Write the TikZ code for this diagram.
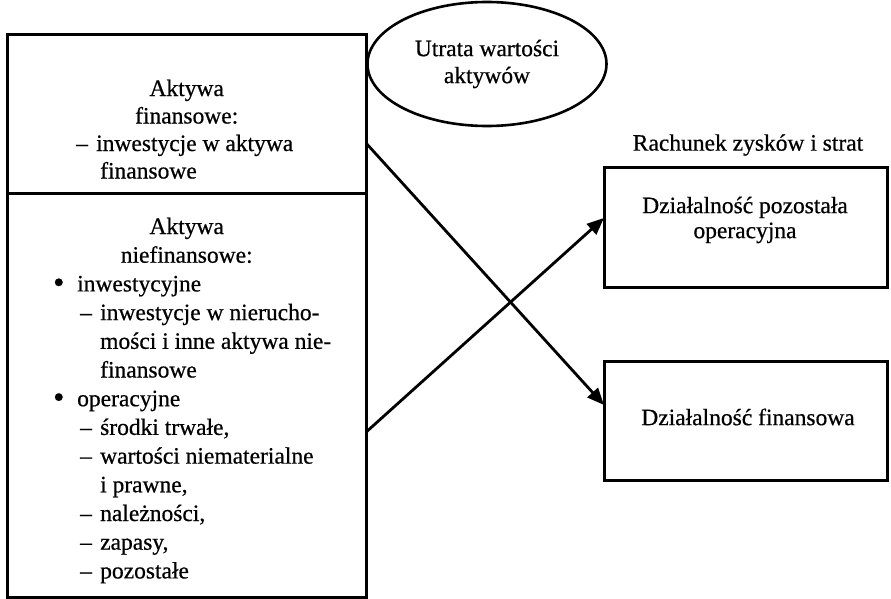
\documentclass[tikz,border=0pt]{standalone}
\usepackage{fontspec}
\setmainfont{Liberation Serif}[FakeBold=0.6]
\usetikzlibrary{shapes.geometric,arrows.meta,calc}
\newcommand\dItem[2]{\hspace*{#1}\makebox[20pt][l]{--}#2}
\newcommand\bItem[1]{\hspace*{46pt}\makebox[24pt][l]{\raisebox{-1.5pt}{\fontsize{32pt}{28pt}\selectfont •}}#1}
\newcommand\cLine[1]{\hspace*{93pt}#1}
\begin{document}
\begin{tikzpicture}[x=1pt,y=-1pt,
  box/.style={draw, line width=3pt, rectangle, inner sep=0pt, outer sep=0pt},
  txt/.style={font=\fontsize{23.5pt}{27.5pt}\selectfont, inner sep=0pt},
  arr/.style={line width=2.8pt, -{Triangle[length=17pt,width=14pt]}}]
\useasboundingbox (0,0) rectangle (891,599);

% left box
\node[box, minimum width=359pt, minimum height=158pt, anchor=north west] (fin) at (7,35) {};
\node[box, minimum width=359pt, minimum height=404pt, anchor=north west] (nfin) at (7,193) {};

\node[txt, text width=359pt, align=flush left, anchor=north west] (finT) at (7,79.5) {%
\makebox[359pt]{Aktywa}\\
\makebox[359pt]{finansowe:}\\
\dItem{69pt}{inwestycje w aktywa}\\
\cLine{finansowe}};

\node[txt, font=\fontsize{23.5pt}{28.7pt}\selectfont, text width=359pt, align=flush left, anchor=north west] (nfinT) at (7,217.5) {%
\makebox[359pt]{Aktywa}\\
\makebox[359pt]{niefinansowe:}\\
\bItem{inwestycyjne}\\
\dItem{73pt}{inwestycje w nierucho-}\\
\cLine{mości i inne aktywa nie-}\\
\cLine{finansowe}\\
\bItem{operacyjne}\\
\dItem{73pt}{środki trwałe,}\\
\dItem{73pt}{wartości niematerialne}\\
\cLine{i prawne,}\\
\dItem{73pt}{należności,}\\
\dItem{73pt}{zapasy,}\\
\dItem{73pt}{pozostałe}};

% ellipse
\node[draw, ellipse, line width=2.6pt, minimum width=239pt, minimum height=124pt,
      txt, font=\fontsize{23.5pt}{27pt}\selectfont, align=center] (ut) at (487,64) {Utrata wartości\\aktywów};

% right side
\node[txt] (rzs) at (748,145) {Rachunek zysków i strat};
\node[box, minimum width=283pt, minimum height=120pt, anchor=north west] (op) at (604,167) {};
\node[txt, font=\fontsize{23.5pt}{25pt}\selectfont, align=center] (opT) at (745,220) {Działalność pozostała\\operacyjna};
\node[box, minimum width=283pt, minimum height=119pt, anchor=north west] (fd) at (604,361) {};
\node[txt] (fdT) at (748,417) {Działalność finansowa};

% connectors
\coordinate (s1) at ($(fin.north east)!0.684!(fin.south east)$);
\coordinate (s2) at ($(nfin.north east)!0.592!(nfin.south east)$);
\coordinate (t1) at ($(op.north west)!0.425!(op.south west)$);
\coordinate (t2) at ($(fd.north west)!0.37!(fd.south west)$);
\draw[arr] (s1) -- (t2);
\draw[arr] (s2) -- (t1);
\end{tikzpicture}
\end{document}
